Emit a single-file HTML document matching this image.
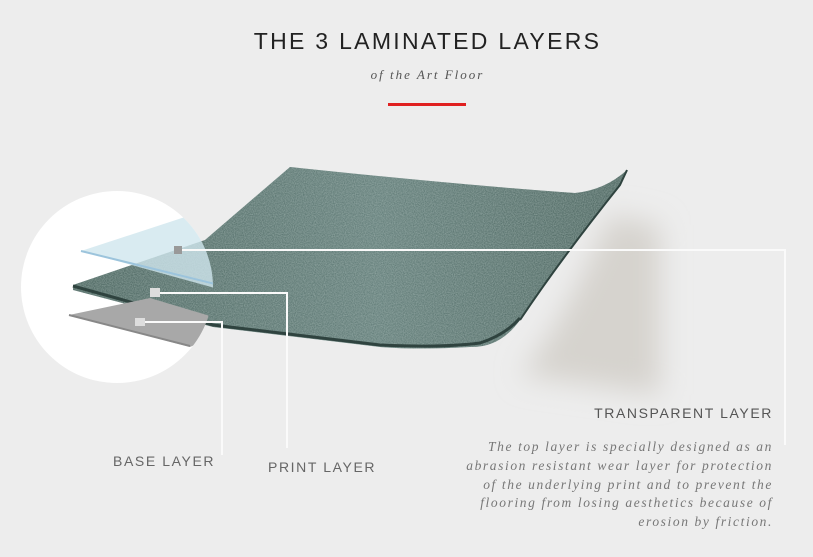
<!DOCTYPE html>
<html><head><style>
body{margin:0;width:813px;height:557px;background:#ededed;overflow:hidden;position:relative;font-family:"Liberation Sans",sans-serif}
.t{position:absolute;white-space:nowrap}
</style></head><body>
<svg width="813" height="557" style="position:absolute;left:0;top:0">
<defs>
<filter id="b" x="-50%" y="-50%" width="200%" height="200%"><feGaussianBlur stdDeviation="14"/></filter>
<filter id="n"><feTurbulence type="fractalNoise" baseFrequency="0.9" numOctaves="2" seed="3"/><feColorMatrix values="0 0 0 0 0.6  0 0 0 0 0.7  0 0 0 0 0.67  0 0 0 0.55 0"/><feComposite in2="SourceGraphic" operator="in"/></filter>
<clipPath id="c"><circle cx="117" cy="287" r="96"/></clipPath>
<linearGradient id="g" x1="0" y1="0" x2="1" y2="0"><stop offset="0" stop-color="#3f5a54"/><stop offset="0.55" stop-color="#587470"/><stop offset="1" stop-color="#3f5953"/></linearGradient>
</defs>
<circle cx="117" cy="287" r="96" fill="#fff"/>
<path d="M610 215 L660 225 L660 395 L520 375 Q560 330 610 215 Z" fill="#d6d3ce" filter="url(#b)"/>
<path d="M290 167 Q460 185 575 193 Q605 190 627 170 L620 185 Q560 260 520 320 Q500 348 470 347 Q420 350 380 347 L213 327 L73 290 L73 285 L205 240 Z" fill="url(#g)"/>
<path d="M290 167 Q460 185 575 193 Q605 190 627 170 L620 185 Q560 260 520 320 Q500 348 470 347 Q420 350 380 347 L213 327 L73 290 L73 285 L205 240 Z" fill="#000" filter="url(#n)"/>
<path d="M73 286 L213 325 L380 345 Q440 348 480 343 Q505 335 520 318" fill="none" stroke="#2f433f" stroke-width="3"/>
<path d="M627 170 L620 185 Q560 260 520 320" fill="none" stroke="#2f433f" stroke-width="2"/>
<g clip-path="url(#c)">
<path d="M69 315 L150 298 L240 325 L190 347 Z" fill="#a8a8a8"/>
<path d="M69 315 L190 346" stroke="#888" stroke-width="2"/>
<path d="M81 251 L185 217 L240 230 L240 295 Z" fill="#cfe6ee" opacity="0.8"/>
<path d="M81 251 L215 284" stroke="#9cc4dc" stroke-width="2"/>
</g>
<g stroke="#fafafa" stroke-width="2" fill="none">
<path d="M178 250 H785 V445"/>
<path d="M155 293 H287 V448"/>
<path d="M140 322 H222 V455"/>
</g>
<rect x="174" y="246" width="8" height="8" fill="#999"/>
<rect x="150" y="288" width="10" height="9" fill="#ddd"/>
<rect x="135" y="318" width="10" height="8" fill="#ddd"/>
<rect x="388" y="103" width="78" height="3" fill="#e02020"/>
</svg>
<div class="t" style="left:0;width:855px;text-align:center;top:28px;font-size:23px;letter-spacing:2.3px;color:#222">THE 3 LAMINATED LAYERS</div>
<div class="t" style="left:0;width:855px;text-align:center;top:67px;font-size:13px;letter-spacing:2px;color:#555;font-style:italic;font-family:'Liberation Serif',serif">of the Art Floor</div>
<div class="t" style="left:113px;top:453px;font-size:14px;letter-spacing:1.6px;color:#666">BASE LAYER</div>
<div class="t" style="left:268px;top:459px;font-size:14px;letter-spacing:1.6px;color:#666">PRINT LAYER</div>
<div class="t" style="right:40px;top:405px;font-size:14px;letter-spacing:1.6px;color:#555">TRANSPARENT LAYER</div>
<div class="t" style="right:40px;top:438px;text-align:right;font-size:13.5px;line-height:18.8px;letter-spacing:1.6px;color:#777;font-style:italic;font-family:'Liberation Serif',serif">The top layer is specially designed as an<br>abrasion resistant wear layer for protection<br>of the underlying print and to prevent the<br>flooring from losing aesthetics because of<br>erosion by friction.</div>
</body></html>
